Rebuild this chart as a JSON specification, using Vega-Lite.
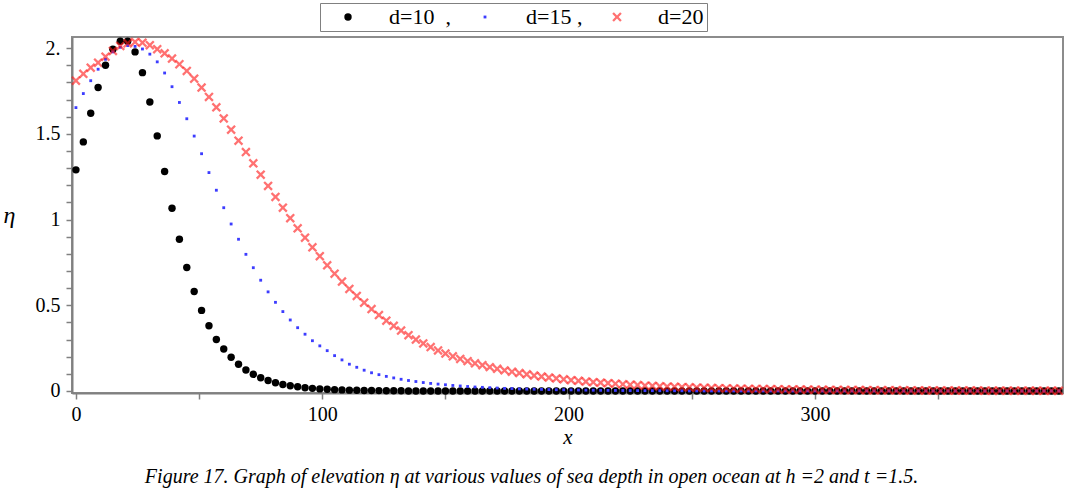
{
  "$schema": "https://vega.github.io/schema/vega-lite/v6.json",
  "width": 991,
  "height": 356,
  "autosize": "none",
  "padding": {"left": 72, "top": 37, "right": 15, "bottom": 109},
  "background": "white",
  "title": {
    "text": "Figure 17. Graph of elevation η at various values of sea depth in open ocean at h =2 and t =1.5.",
    "orient": "bottom",
    "anchor": "middle",
    "font": "Liberation Serif",
    "fontStyle": "italic",
    "fontWeight": "normal",
    "fontSize": 20,
    "color": "black",
    "offset": 20,
    "dx": -36
  },
  "data": {
    "values": [
      {"x": 0, "d10": 1.29, "d15": 1.653, "d20": 1.81},
      {"x": 3, "d10": 1.453, "d15": 1.735, "d20": 1.85},
      {"x": 6, "d10": 1.62, "d15": 1.81, "d20": 1.886},
      {"x": 9, "d10": 1.77, "d15": 1.877, "d20": 1.915},
      {"x": 12, "d10": 1.9, "d15": 1.935, "d20": 1.95},
      {"x": 15, "d10": 1.994, "d15": 1.978, "d20": 1.984},
      {"x": 18, "d10": 2.04, "d15": 2.005, "d20": 2.013},
      {"x": 21, "d10": 2.04, "d15": 2.015, "d20": 2.028},
      {"x": 24, "d10": 1.978, "d15": 2.01, "d20": 2.036},
      {"x": 27, "d10": 1.857, "d15": 1.995, "d20": 2.032},
      {"x": 30, "d10": 1.686, "d15": 1.965, "d20": 2.017},
      {"x": 33, "d10": 1.488, "d15": 1.92, "d20": 1.994},
      {"x": 36, "d10": 1.28, "d15": 1.855, "d20": 1.97},
      {"x": 39, "d10": 1.066, "d15": 1.775, "d20": 1.939},
      {"x": 42, "d10": 0.885, "d15": 1.683, "d20": 1.906},
      {"x": 45, "d10": 0.72, "d15": 1.588, "d20": 1.867},
      {"x": 48, "d10": 0.58, "d15": 1.487, "d20": 1.822},
      {"x": 51, "d10": 0.47, "d15": 1.384, "d20": 1.77},
      {"x": 54, "d10": 0.38, "d15": 1.274, "d20": 1.715},
      {"x": 57, "d10": 0.3, "d15": 1.171, "d20": 1.655},
      {"x": 60, "d10": 0.245, "d15": 1.069, "d20": 1.59},
      {"x": 63, "d10": 0.197, "d15": 0.974, "d20": 1.524},
      {"x": 66, "d10": 0.156, "d15": 0.885, "d20": 1.46},
      {"x": 69, "d10": 0.122, "d15": 0.797, "d20": 1.394},
      {"x": 72, "d10": 0.097, "d15": 0.719, "d20": 1.328},
      {"x": 75, "d10": 0.077, "d15": 0.646, "d20": 1.262},
      {"x": 78, "d10": 0.061, "d15": 0.578, "d20": 1.196},
      {"x": 81, "d10": 0.048, "d15": 0.517, "d20": 1.132},
      {"x": 84, "d10": 0.038, "d15": 0.463, "d20": 1.069},
      {"x": 87, "d10": 0.03, "d15": 0.414, "d20": 1.008},
      {"x": 90, "d10": 0.024, "d15": 0.369, "d20": 0.949},
      {"x": 93, "d10": 0.019, "d15": 0.331, "d20": 0.894},
      {"x": 96, "d10": 0.015, "d15": 0.293, "d20": 0.838},
      {"x": 99, "d10": 0.012, "d15": 0.263, "d20": 0.786},
      {"x": 102, "d10": 0.0095, "d15": 0.235, "d20": 0.733},
      {"x": 105, "d10": 0.0075, "d15": 0.206, "d20": 0.684},
      {"x": 108, "d10": 0.006, "d15": 0.181, "d20": 0.638},
      {"x": 111, "d10": 0.0047, "d15": 0.156, "d20": 0.595},
      {"x": 114, "d10": 0.0037, "d15": 0.138, "d20": 0.554},
      {"x": 117, "d10": 0.003, "d15": 0.121, "d20": 0.515},
      {"x": 120, "d10": 0.0024, "d15": 0.106, "d20": 0.478},
      {"x": 123, "d10": 0.0019, "d15": 0.095, "d20": 0.443},
      {"x": 126, "d10": 0.0015, "d15": 0.085, "d20": 0.41},
      {"x": 129, "d10": 0.0012, "d15": 0.076, "d20": 0.38},
      {"x": 132, "d10": 0.001, "d15": 0.068, "d20": 0.352},
      {"x": 135, "d10": 0, "d15": 0.061, "d20": 0.325},
      {"x": 138, "d10": 0, "d15": 0.055, "d20": 0.3},
      {"x": 141, "d10": 0, "d15": 0.049, "d20": 0.277},
      {"x": 144, "d10": 0, "d15": 0.044, "d20": 0.256},
      {"x": 147, "d10": 0, "d15": 0.04, "d20": 0.236},
      {"x": 150, "d10": 0, "d15": 0.036, "d20": 0.218},
      {"x": 153, "d10": 0, "d15": 0.032, "d20": 0.202},
      {"x": 156, "d10": 0, "d15": 0.029, "d20": 0.187},
      {"x": 159, "d10": 0, "d15": 0.026, "d20": 0.174},
      {"x": 162, "d10": 0, "d15": 0.023, "d20": 0.161},
      {"x": 165, "d10": 0, "d15": 0.021, "d20": 0.15},
      {"x": 168, "d10": 0, "d15": 0.019, "d20": 0.139},
      {"x": 171, "d10": 0, "d15": 0.017, "d20": 0.129},
      {"x": 174, "d10": 0, "d15": 0.015, "d20": 0.12},
      {"x": 177, "d10": 0, "d15": 0.014, "d20": 0.112},
      {"x": 180, "d10": 0, "d15": 0.012, "d20": 0.104},
      {"x": 183, "d10": 0, "d15": 0.011, "d20": 0.097},
      {"x": 186, "d10": 0, "d15": 0.01, "d20": 0.09},
      {"x": 189, "d10": 0, "d15": 0.009, "d20": 0.084},
      {"x": 192, "d10": 0, "d15": 0.008, "d20": 0.078},
      {"x": 195, "d10": 0, "d15": 0.007, "d20": 0.073},
      {"x": 198, "d10": 0, "d15": 0.0065, "d20": 0.068},
      {"x": 201, "d10": 0, "d15": 0.006, "d20": 0.063},
      {"x": 204, "d10": 0, "d15": 0.0053, "d20": 0.059},
      {"x": 207, "d10": 0, "d15": 0.0047, "d20": 0.055},
      {"x": 210, "d10": 0, "d15": 0.0042, "d20": 0.051},
      {"x": 213, "d10": 0, "d15": 0.0037, "d20": 0.048},
      {"x": 216, "d10": 0, "d15": 0.0033, "d20": 0.045},
      {"x": 219, "d10": 0, "d15": 0.003, "d20": 0.042},
      {"x": 222, "d10": 0, "d15": 0.0026, "d20": 0.039},
      {"x": 225, "d10": 0, "d15": 0.0023, "d20": 0.036},
      {"x": 228, "d10": 0, "d15": 0.002, "d20": 0.034},
      {"x": 231, "d10": 0, "d15": 0.0018, "d20": 0.031},
      {"x": 234, "d10": 0, "d15": 0.0016, "d20": 0.029},
      {"x": 237, "d10": 0, "d15": 0.0014, "d20": 0.027},
      {"x": 240, "d10": 0, "d15": 0.0012, "d20": 0.025},
      {"x": 243, "d10": 0, "d15": 0.0011, "d20": 0.024},
      {"x": 246, "d10": 0, "d15": 0.001, "d20": 0.022},
      {"x": 249, "d10": 0, "d15": 0, "d20": 0.021},
      {"x": 252, "d10": 0, "d15": 0, "d20": 0.019},
      {"x": 255, "d10": 0, "d15": 0, "d20": 0.018},
      {"x": 258, "d10": 0, "d15": 0, "d20": 0.017},
      {"x": 261, "d10": 0, "d15": 0, "d20": 0.016},
      {"x": 264, "d10": 0, "d15": 0, "d20": 0.015},
      {"x": 267, "d10": 0, "d15": 0, "d20": 0.014},
      {"x": 270, "d10": 0, "d15": 0, "d20": 0.013},
      {"x": 273, "d10": 0, "d15": 0, "d20": 0.012},
      {"x": 276, "d10": 0, "d15": 0, "d20": 0.0115},
      {"x": 279, "d10": 0, "d15": 0, "d20": 0.011},
      {"x": 282, "d10": 0, "d15": 0, "d20": 0.01},
      {"x": 285, "d10": 0, "d15": 0, "d20": 0.0095},
      {"x": 288, "d10": 0, "d15": 0, "d20": 0.009},
      {"x": 291, "d10": 0, "d15": 0, "d20": 0.0085},
      {"x": 294, "d10": 0, "d15": 0, "d20": 0.008},
      {"x": 297, "d10": 0, "d15": 0, "d20": 0.0075},
      {"x": 300, "d10": 0, "d15": 0, "d20": 0.007},
      {"x": 303, "d10": 0, "d15": 0, "d20": 0.0066},
      {"x": 306, "d10": 0, "d15": 0, "d20": 0.0062},
      {"x": 309, "d10": 0, "d15": 0, "d20": 0.0058},
      {"x": 312, "d10": 0, "d15": 0, "d20": 0.0055},
      {"x": 315, "d10": 0, "d15": 0, "d20": 0.0052},
      {"x": 318, "d10": 0, "d15": 0, "d20": 0.0049},
      {"x": 321, "d10": 0, "d15": 0, "d20": 0.0046},
      {"x": 324, "d10": 0, "d15": 0, "d20": 0.0043},
      {"x": 327, "d10": 0, "d15": 0, "d20": 0.0041},
      {"x": 330, "d10": 0, "d15": 0, "d20": 0.0038},
      {"x": 333, "d10": 0, "d15": 0, "d20": 0.0036},
      {"x": 336, "d10": 0, "d15": 0, "d20": 0.0034},
      {"x": 339, "d10": 0, "d15": 0, "d20": 0.0032},
      {"x": 342, "d10": 0, "d15": 0, "d20": 0.003},
      {"x": 345, "d10": 0, "d15": 0, "d20": 0.0028},
      {"x": 348, "d10": 0, "d15": 0, "d20": 0.0027},
      {"x": 351, "d10": 0, "d15": 0, "d20": 0.0025},
      {"x": 354, "d10": 0, "d15": 0, "d20": 0.0024},
      {"x": 357, "d10": 0, "d15": 0, "d20": 0.0022},
      {"x": 360, "d10": 0, "d15": 0, "d20": 0.0021},
      {"x": 363, "d10": 0, "d15": 0, "d20": 0.002},
      {"x": 366, "d10": 0, "d15": 0, "d20": 0.0019},
      {"x": 369, "d10": 0, "d15": 0, "d20": 0.0018},
      {"x": 372, "d10": 0, "d15": 0, "d20": 0.0017},
      {"x": 375, "d10": 0, "d15": 0, "d20": 0.0016},
      {"x": 378, "d10": 0, "d15": 0, "d20": 0.0015},
      {"x": 381, "d10": 0, "d15": 0, "d20": 0.0014},
      {"x": 384, "d10": 0, "d15": 0, "d20": 0.0013},
      {"x": 387, "d10": 0, "d15": 0, "d20": 0.0012},
      {"x": 390, "d10": 0, "d15": 0, "d20": 0.0011},
      {"x": 393, "d10": 0, "d15": 0, "d20": 0.001},
      {"x": 396, "d10": 0, "d15": 0, "d20": 0.001},
      {"x": 399, "d10": 0, "d15": 0, "d20": 0.001}
    ]
  },
  "transform": [{"fold": ["d10", "d15", "d20"], "as": ["s", "y"]}],
  "mark": {"type": "point", "filled": true, "strokeWidth": 0},
  "encoding": {
    "x": {
      "field": "x",
      "type": "quantitative",
      "scale": {"domain": [-1.6, 400.7], "nice": false, "zero": false},
      "axis": {
        "values": [0, 50, 100, 150, 200, 250, 300, 350],
        "labelExpr": "datum.value % 100 == 0 ? toString(datum.value) : ''",
        "labelFont": "Liberation Serif",
        "labelFontSize": 20,
        "labelColor": "black",
        "labelPadding": 5,
        "title": "x",
        "titleFont": "Liberation Serif",
        "titleFontStyle": "italic",
        "titleFontWeight": "normal",
        "titleFontSize": 21,
        "titleColor": "black",
        "titleBaseline": "alphabetic",
        "titleY": 50
      }
    },
    "y": {
      "field": "y",
      "type": "quantitative",
      "scale": {"domain": [-0.012, 2.065], "nice": false, "zero": false},
      "axis": {
        "values": [0, 0.1, 0.2, 0.3, 0.4, 0.5, 0.6, 0.7, 0.8, 0.9, 1, 1.1, 1.2, 1.3, 1.4, 1.5, 1.6, 1.7, 1.8, 1.9, 2],
        "labelExpr": "round(datum.value * 10) % 5 == 0 ? (datum.value == 2 ? '2.' : toString(datum.value)) : ''",
        "labelFont": "Liberation Serif",
        "labelFontSize": 20,
        "labelColor": "black",
        "labelPadding": 6,
        "title": "η",
        "titleFont": "Liberation Serif",
        "titleFontStyle": "italic",
        "titleFontWeight": "normal",
        "titleFontSize": 24,
        "titleColor": "black",
        "titleAngle": 0,
        "titleAlign": "left",
        "titleBaseline": "alphabetic",
        "titleX": -69,
        "titleY": 185
      }
    },
    "color": {
      "field": "s",
      "type": "nominal",
      "scale": {"domain": ["d10", "d15", "d20"], "range": ["#000000", "#3c3cff", "#ff1a1a"]},
      "legend": {
        "title": null,
        "orient": "none",
        "legendX": 248,
        "legendY": -34,
        "direction": "horizontal",
        "labelExpr": "datum.value == 'd10' ? 'd=10\u00a0\u00a0,' : datum.value == 'd15' ? 'd=15\u00a0,' : 'd=20\u00a0\u00a0\u00a0'",
        "labelFont": "Liberation Serif",
        "labelFontSize": 22,
        "labelColor": "black",
        "strokeColor": "#808080",
        "fillColor": "white",
        "padding": 3,
        "symbolOffset": 14,
        "labelOffset": 30,
        "columnPadding": 9
      }
    },
    "shape": {
      "field": "s",
      "type": "nominal",
      "scale": {"domain": ["d10", "d15", "d20"], "range": ["circle", "square", "M-1,-0.66L-0.66,-1L0,-0.34L0.66,-1L1,-0.66L0.34,0L1,0.66L0.66,1L0,0.34L-0.66,1L-1,0.66L-0.34,0Z"]}
    },
    "size": {
      "field": "s",
      "type": "nominal",
      "scale": {"type": "ordinal", "domain": ["d10", "d15", "d20"], "range": [55, 8, 90]}
    },
    "opacity": {
      "field": "s",
      "type": "nominal",
      "scale": {"type": "ordinal", "domain": ["d10", "d15", "d20"], "range": [1, 1, 0.62]}
    }
  },
  "config": {
    "view": {"stroke": "#8c8c8c", "strokeWidth": 2},
    "axis": {
      "grid": false,
      "labelFont": "Liberation Serif",
      "labelFontSize": 20,
      "labelColor": "black",
      "tickColor": "#808080",
      "tickWidth": 1.5,
      "tickSize": 6,
      "domainColor": "#808080",
      "domainWidth": 2,
      "labelFlush": false,
      "labelOverlap": false
    }
  }
}
